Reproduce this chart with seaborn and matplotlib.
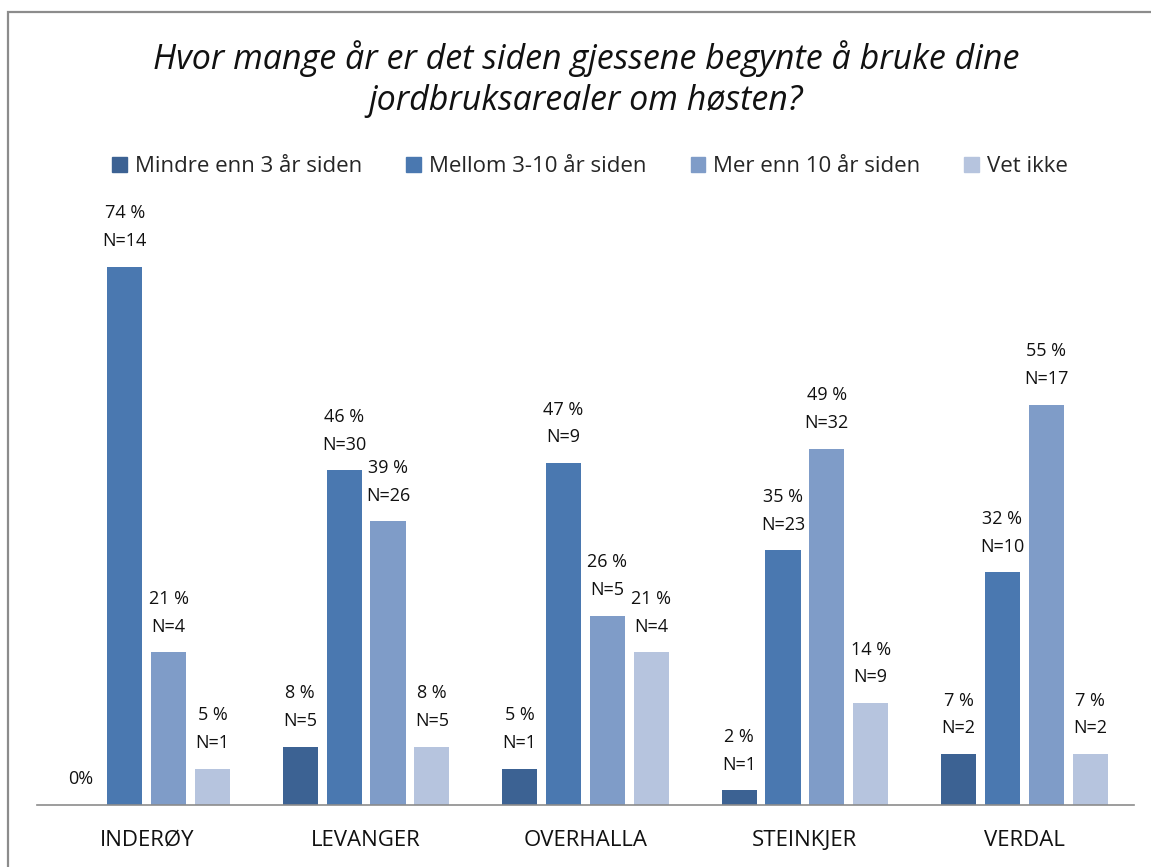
import matplotlib
matplotlib.use("Agg")
import matplotlib.pyplot as plt
import matplotlib.patches as mpatches
import seaborn as sns
import pandas as pd

categories = ["INDERØY", "LEVANGER", "OVERHALLA", "STEINKJER", "VERDAL"]
series = ["Mindre enn 3 år siden", "Mellom 3-10 år siden", "Mer enn 10 år siden", "Vet ikke"]
values = {
    "Mindre enn 3 år siden": [0, 8, 5, 2, 7],
    "Mellom 3-10 år siden": [74, 46, 47, 35, 32],
    "Mer enn 10 år siden": [21, 39, 26, 49, 55],
    "Vet ikke": [5, 8, 21, 14, 7],
}
counts = {
    "Mindre enn 3 år siden": [0, 5, 1, 1, 2],
    "Mellom 3-10 år siden": [14, 30, 9, 23, 10],
    "Mer enn 10 år siden": [4, 26, 5, 32, 17],
    "Vet ikke": [1, 5, 4, 9, 2],
}
colors = ["#3C6293", "#4A78B0", "#7F9CC8", "#B6C4DE"]
title = "Hvor mange år er det siden gjessene begynte å bruke dine\njordbruksarealer om høsten?"

rows = []
for s in series:
    for c, v in zip(categories, values[s]):
        rows.append({"Kommune": c, "Serie": s, "Prosent": v})
df = pd.DataFrame(rows)

sns.set_theme(style="white")
plt.rcParams["font.family"] = ["Open Sans", "DejaVu Sans"]

fig = plt.figure(figsize=(11.51, 8.67), dpi=100)
ax = fig.add_axes([37 / 1151, 1 - 805 / 867, 1097 / 1151, 582 / 867])

sns.barplot(data=df, x="Kommune", y="Prosent", hue="Serie", order=categories,
            hue_order=series, palette=colors, width=0.8, gap=0.2, ax=ax,
            legend=False, saturation=1, linewidth=0)

ax.set_ylim(0, 80)
ax.set_xlim(-0.5, 4.5)
ax.set_xlabel("")
ax.set_ylabel("")
ax.set_yticks([])
for sp in ["top", "left", "right"]:
    ax.spines[sp].set_visible(False)
ax.spines["bottom"].set_color("#8C8C8C")
ax.spines["bottom"].set_linewidth(1.2)
ax.tick_params(axis="x", length=0, pad=18, labelsize=16, labelcolor="#111111")

for cont, s in zip(ax.containers, series):
    for bar, v, n in zip(cont, values[s], counts[s]):
        x = bar.get_x() + bar.get_width() / 2
        h = bar.get_height()
        txt = "0%" if v == 0 else f"{v} %\nN={n}"
        ax.annotate(txt, (x, h), xytext=(0, 12), textcoords="offset points",
                    ha="center", va="bottom", fontsize=13, linespacing=1.7,
                    color="#111111")

handles = [mpatches.Patch(color=c, label=s) for c, s in zip(colors, series)]
fig.legend(handles=handles, loc="center", bbox_to_anchor=(590 / 1151, 1 - 167 / 867),
           ncol=4, frameon=False, fontsize=16, handlelength=0.65, handleheight=0.65,
           handletextpad=0.35, columnspacing=2.0)

fig.text(586 / 1151, 1 - 79 / 867, title, ha="center", va="center", fontsize=24.5,
         style="italic", linespacing=1.3, color="#111111")

frame = mpatches.Rectangle((8 / 1151, -0.1), 1.2, 1 - 12 / 867 + 0.1, transform=fig.transFigure,
                           fill=False, edgecolor="#8C8C8C", linewidth=1.6)
fig.patches.append(frame)

fig.savefig("out.png", dpi=100, facecolor="white")
